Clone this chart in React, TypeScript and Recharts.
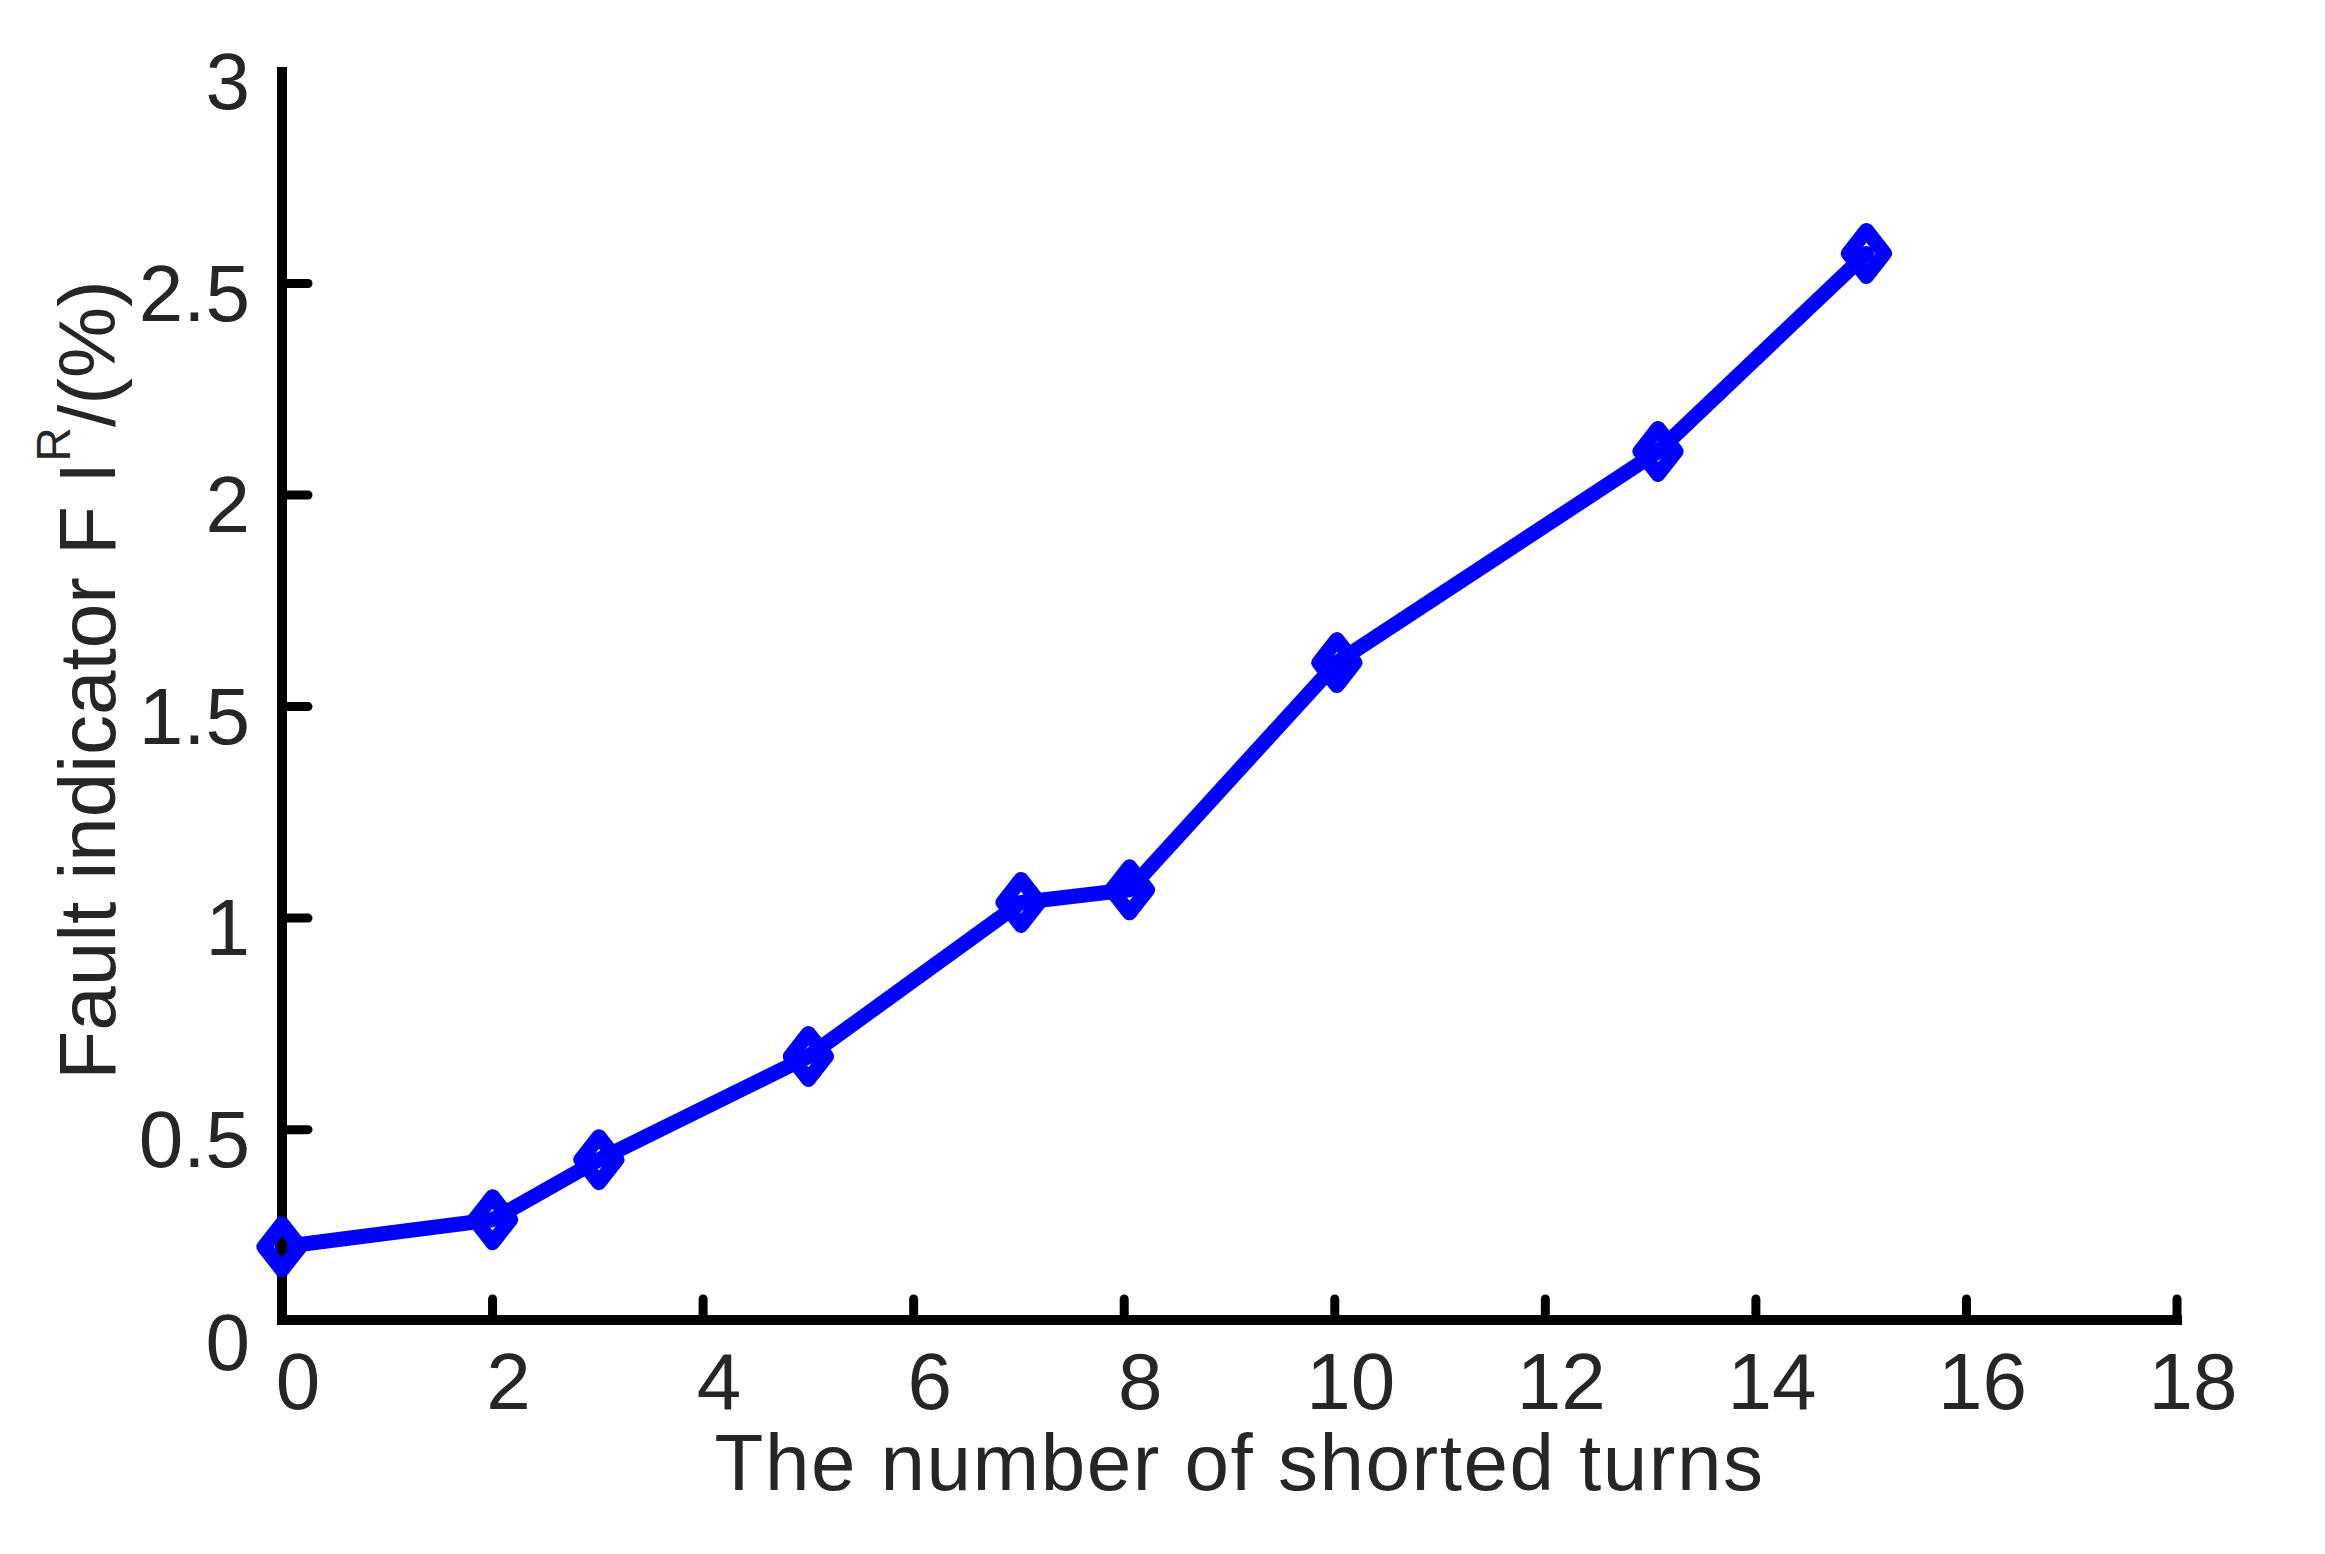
import React from 'react';
import { LineChart, Line, XAxis, YAxis } from 'recharts';

// ---- data ----
const shortedTurns = [0, 2, 3.01, 5, 7.02, 8.05, 10.02, 13.07, 15.05];
const faultIndicator = [0.223, 0.287, 0.429, 0.673, 1.037, 1.067, 1.604, 2.103, 2.571];
const xTicks = [0, 2, 4, 6, 8, 10, 12, 14, 16, 18];
const yTicks = [0, 0.5, 1, 1.5, 2, 2.5, 3];
const X_DOMAIN: [number, number] = [0, 18];
const AXIS_CROSS = 0.05; // value where the x axis line crosses the y axis
const Y_DOMAIN: [number, number] = [AXIS_CROSS, 3];

const data = shortedTurns.map((x, i) => ({ x, fi: faultIndicator[i] }));

// ---- style ----
const W = 2325;
const H = 1554;
const FONT = "'Liberation Sans', Arial, Helvetica, sans-serif";
const TEXT = '#262626';
const BLUE = '#0000FF';
const MARGIN = { top: 72, right: 148, bottom: 0, left: 0 };
const Y_AXIS_W = 282;
const X_AXIS_H = 234;

const Diamond = (props: any) => {
  const { cx, cy } = props;
  if (cx == null || cy == null) return null;
  const hw = 18;
  const hh = 23;
  return (
    <path
      d={`M${cx},${cy - hh} L${cx + hw},${cy} L${cx},${cy + hh} L${cx - hw},${cy} Z`}
      fill="none"
      stroke={BLUE}
      strokeWidth={15}
      strokeLinejoin="round"
    />
  );
};

const XTick = (props: any) => {
  const { x, y, payload } = props;
  return (
    <text x={x + 16} y={y} dy={57} textAnchor="middle" fill={TEXT} fontSize={80} fontFamily={FONT}>
      {String(payload.value)}
    </text>
  );
};

const YTick = (props: any) => {
  const { x, y, payload } = props;
  const v = payload.value;
  const axisX = x + 32;
  const showLine = v >= AXIS_CROSS && v < Y_DOMAIN[1];
  return (
    <g>
      {showLine && (
        <line x1={axisX} x2={axisX + 26} y1={y} y2={y} stroke="#000" strokeWidth={9} strokeLinecap="round" />
      )}
      <text x={x} y={y} dy={v >= AXIS_CROSS ? 37 : 29} textAnchor="end" fill={TEXT} fontSize={80} fontFamily={FONT}>
        {String(v)}
      </text>
    </g>
  );
};

const XLabel = () => (
  <text
    x={Y_AXIS_W + (W - MARGIN.right - Y_AXIS_W) / 2 + 10}
    y={H - X_AXIS_H + 170}
    textAnchor="middle"
    fill={TEXT}
    fontSize={80}
    fontFamily={FONT}
    letterSpacing={1.5}
  >
    The number of shorted turns
  </text>
);

const YLabel = () => {
  const cx = 115;
  const cy = 680;
  return (
    <text
      x={cx}
      y={cy}
      transform={`rotate(-90, ${cx}, ${cy})`}
      textAnchor="middle"
      fill={TEXT}
      fontSize={80}
      fontFamily={FONT}
    >
      Fault indicator F I
      <tspan dy={-45} fontSize={48}>R</tspan>
      <tspan dy={45}>/(%)</tspan>
    </text>
  );
};

export default function App() {
  return (
    <div style={{ position: 'absolute', left: 0, top: 0, width: W, height: H, background: '#fff' }}>
      <LineChart width={W} height={H} data={data} margin={MARGIN}>
        <XAxis
          dataKey="x"
          type="number"
          domain={X_DOMAIN}
          ticks={xTicks}
          interval={0}
          height={X_AXIS_H}
          axisLine={{ stroke: '#000', strokeWidth: 10, strokeLinecap: 'square' }}
          tickLine={{ stroke: '#000', strokeWidth: 9, strokeLinecap: 'round' }}
          tickSize={-21}
          tickMargin={53}
          tick={<XTick />}
          label={<XLabel />}
        />
        <YAxis
          type="number"
          domain={Y_DOMAIN}
          ticks={yTicks}
          interval={0}
          width={Y_AXIS_W}
          axisLine={{ stroke: '#000', strokeWidth: 10, strokeLinecap: 'square' }}
          tickLine={false}
          tickSize={0}
          tickMargin={32}
          tick={<YTick />}
          label={<YLabel />}
        />
        <Line
          type="linear"
          dataKey="fi"
          stroke={BLUE}
          strokeWidth={15}
          strokeLinejoin="round"
          strokeLinecap="round"
          dot={<Diamond />}
          activeDot={false}
          isAnimationActive={false}
        />
      </LineChart>
    </div>
  );
}
